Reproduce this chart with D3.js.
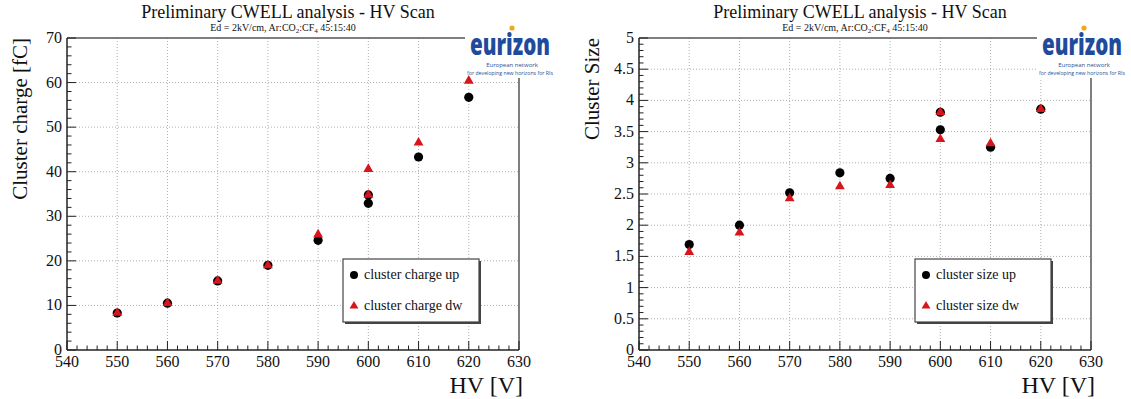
<!DOCTYPE html>
<html>
<head>
<meta charset="utf-8">
<script src="https://cdn.jsdelivr.net/npm/d3@7"></script>
<style>
  body { margin: 0; background: #fff; }
  svg { display: block; }
  text { font-family: "Liberation Serif", "Times New Roman", serif; fill: #111; }
  text.logo { font-family: "Open Sans", Lato, sans-serif; }
</style>
</head>
<body>
<svg id="chart" width="1131" height="399"></svg>
<script>
// HV scan points (600 V was measured twice)
const hv = [550, 560, 570, 580, 590, 600, 600, 610, 620]
const chargeUp = [8.3, 10.5, 15.5, 19.0, 24.6, 34.8, 32.9, 43.3, 56.7]
const chargeDw = [8.3, 10.5, 15.5, 19.0, 25.9, 34.8, 40.6, 46.5, 60.4]
const sizeUp = [1.69, 2.0, 2.52, 2.84, 2.75, 3.81, 3.53, 3.25, 3.86]
const sizeDw = [1.57, 1.88, 2.43, 2.62, 2.64, 3.81, 3.38, 3.31, 3.86]

const xTicks = [540, 550, 560, 570, 580, 590, 600, 610, 620, 630]
const chargeTicks = [0, 10, 20, 30, 40, 50, 60, 70]
const sizeTicks = [0, 0.5, 1, 1.5, 2, 2.5, 3, 3.5, 4, 4.5, 5]

const svg = d3.select("#chart")

const panels = [
    {dx: 0, yTitle: "Cluster charge [fC]", yDomain: [0, 70], yTicks: chargeTicks, minorStep: 2,
     up: chargeUp, dw: chargeDw, labels: ["cluster charge up", "cluster charge dw"]},
    {dx: 572, yTitle: "Cluster Size", yDomain: [0, 5], yTicks: sizeTicks, minorStep: 0.1,
     up: sizeUp, dw: sizeDw, labels: ["cluster size up", "cluster size dw"]}
]

panels.forEach(p => drawPanel(p))

function drawPanel(p) {
    const left = 67 + p.dx, right = 519 + p.dx, top = 38, bottom = 350
    const g = svg.append("g")

    const x = d3.scaleLinear().domain([540, 630]).range([left, right])
    const y = d3.scaleLinear().domain(p.yDomain).range([bottom, top])

    // dotted grid at the major ticks
    g.append("g").selectAll("line").data(xTicks.slice(1, -1)).join("line")
        .attr("x1", d => x(d)).attr("x2", d => x(d)).attr("y1", top).attr("y2", bottom)
        .attr("stroke", "#9a9a9a").attr("stroke-width", 0.8).attr("stroke-dasharray", "1,2")
    g.append("g").selectAll("line").data(p.yTicks.slice(1, -1)).join("line")
        .attr("x1", left).attr("x2", right).attr("y1", d => y(d)).attr("y2", d => y(d))
        .attr("stroke", "#9a9a9a").attr("stroke-width", 0.8).attr("stroke-dasharray", "1,2")

    // frame: top and right in grey, axes in black
    g.append("line").attr("x1", left).attr("x2", right).attr("y1", top).attr("y2", top)
        .attr("stroke", "#555").attr("stroke-width", 1.5)
    g.append("line").attr("x1", right).attr("x2", right).attr("y1", top).attr("y2", bottom)
        .attr("stroke", "#555").attr("stroke-width", 1.5)

    // x axis, ROOT style ticks pointing inside
    const xMinor = d3.range(540, 630.01, 2)
    g.append("g").selectAll("line").data(xMinor).join("line")
        .attr("x1", d => x(d)).attr("x2", d => x(d)).attr("y1", bottom)
        .attr("y2", d => bottom - (d % 10 === 0 ? 9 : 4.5))
        .attr("stroke", "#222").attr("stroke-width", 1)
    g.append("line").attr("x1", left).attr("x2", right).attr("y1", bottom).attr("y2", bottom)
        .attr("stroke", "#222").attr("stroke-width", 1.5)
    g.append("g").selectAll("text").data(xTicks).join("text")
        .attr("x", d => x(d)).attr("y", bottom + 17)
        .attr("text-anchor", "middle").attr("font-size", 16)
        .text(d => d)
    g.append("text").attr("x", right + 4).attr("y", 393)
        .attr("text-anchor", "end").attr("font-size", 24)
        .text("HV [V]")

    // y axis
    const yMinor = d3.range(0, Math.round(p.yDomain[1] / p.minorStep) + 1).map(i => +(i * p.minorStep).toFixed(3))
    const majorStep = p.yTicks[1] - p.yTicks[0]
    g.append("g").selectAll("line").data(yMinor).join("line")
        .attr("y1", d => y(d)).attr("y2", d => y(d)).attr("x1", left)
        .attr("x2", d => left + (Math.abs(d / majorStep - Math.round(d / majorStep)) < 1e-6 ? 9 : 4.5))
        .attr("stroke", "#222").attr("stroke-width", 1)
    g.append("line").attr("x1", left).attr("x2", left).attr("y1", top).attr("y2", bottom)
        .attr("stroke", "#222").attr("stroke-width", 1.5)
    g.append("g").selectAll("text").data(p.yTicks).join("text")
        .attr("x", left - 5).attr("y", d => y(d) + 5)
        .attr("text-anchor", "end").attr("font-size", 16)
        .text(d => d)
    g.append("text")
        .attr("transform", `translate(${27 + p.dx},${top}) rotate(-90)`)
        .attr("text-anchor", "end").attr("font-size", 21)
        .text(p.yTitle)

    // titles
    g.append("text").attr("x", 288 + p.dx).attr("y", 18)
        .attr("text-anchor", "middle").attr("font-size", 18)
        .text("Preliminary CWELL analysis - HV Scan")
    const sub = g.append("text").attr("x", 283 + p.dx).attr("y", 31)
        .attr("text-anchor", "middle").attr("font-size", 10)
    sub.append("tspan").text("Ed = 2kV/cm, Ar:CO")
    sub.append("tspan").attr("font-size", 7).attr("dy", 2).text("2")
    sub.append("tspan").attr("dy", -2).text(":CF")
    sub.append("tspan").attr("font-size", 7).attr("dy", 2).text("4")
    sub.append("tspan").attr("dy", -2).text(" 45:15:40")

    // logo sits under the points so the 620 V markers stay visible
    drawLogo(g, 465 + p.dx, 24)

    // points: black circles under red triangles
    const pts = hv.map((v, i) => ({hv: v, up: p.up[i], dw: p.dw[i]}))
    g.append("g").selectAll("circle").data(pts).join("circle")
        .attr("cx", d => x(d.hv)).attr("cy", d => y(d.up)).attr("r", 4.6)
        .attr("fill", "#000")
    const tri = d3.symbol().type(d3.symbolTriangle).size(42)
    g.append("g").selectAll("path").data(pts).join("path")
        .attr("d", tri)
        .attr("transform", d => `translate(${x(d.hv)},${y(d.dw)})`)
        .attr("fill", "#d8141c")

    // legend
    const lx = 343 + p.dx, ly = 259, lw = 136, lh = 63
    g.append("rect").attr("x", lx + 2).attr("y", ly + 2).attr("width", lw).attr("height", lh)
        .attr("fill", "#444")
    g.append("rect").attr("x", lx).attr("y", ly).attr("width", lw).attr("height", lh)
        .attr("fill", "#fff").attr("stroke", "#444").attr("stroke-width", 1.2)
    g.append("circle").attr("cx", lx + 11).attr("cy", ly + 16).attr("r", 4).attr("fill", "#000")
    g.append("path").attr("d", d3.symbol().type(d3.symbolTriangle).size(34))
        .attr("transform", `translate(${lx + 11},${ly + 47})`).attr("fill", "#d8141c")
    g.append("text").attr("x", lx + 21).attr("y", ly + 20).attr("font-size", 14).text(p.labels[0])
    g.append("text").attr("x", lx + 21).attr("y", ly + 51).attr("font-size", 14).text(p.labels[1])
}

function drawLogo(g, lx, ly) {
    g.append("rect").attr("x", lx).attr("y", ly).attr("width", 90).attr("height", 54).attr("fill", "#fff")
    g.append("text").attr("class", "logo").attr("x", lx + 45).attr("y", ly + 31)
        .attr("text-anchor", "middle")
        .attr("font-weight", 800)
        .attr("font-size", 30).attr("textLength", 80).attr("lengthAdjust", "spacingAndGlyphs")
        .style("fill", "#1f4b9c")
        .text("eurizon")
    g.append("circle").attr("cx", lx + 47).attr("cy", ly + 4).attr("r", 2.6).attr("fill", "#f0a81c")
    g.append("text").attr("class", "logo").attr("x", lx + 47).attr("y", ly + 43)
        .attr("text-anchor", "middle").attr("font-size", 6)
        .style("fill", "#2b4f8f").text("European network")
    g.append("text").attr("class", "logo").attr("x", lx + 45).attr("y", ly + 51)
        .attr("text-anchor", "middle").attr("font-size", 5.5)
        .attr("textLength", 86).attr("lengthAdjust", "spacingAndGlyphs")
        .style("fill", "#2b4f8f").text("for developing new horizons for RIs")
}
</script>
</body>
</html>
